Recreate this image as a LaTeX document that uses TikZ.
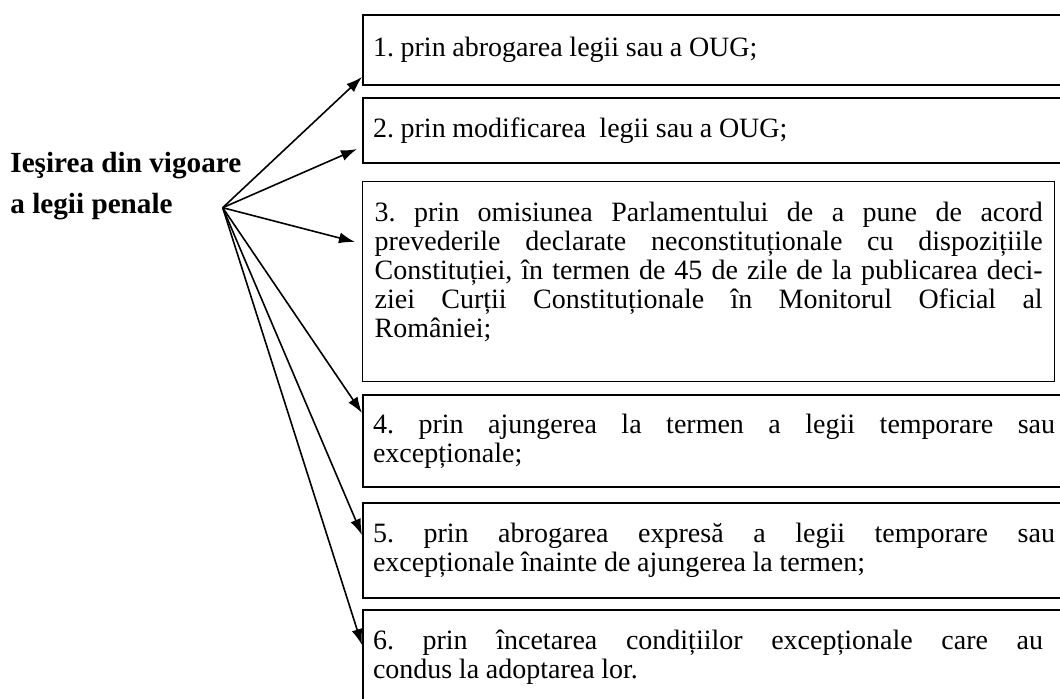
\documentclass[tikz,border=0pt]{standalone}
\usepackage{fontspec}
\setmainfont{Liberation Serif}
\usetikzlibrary{arrows.meta, calc}

\setlength{\parindent}{0pt}
\frenchspacing
\newcommand{\bodyfont}{\fontsize{14}{14.6}\selectfont}
\newcommand{\jline}[2][\linewidth]{\makebox[#1][s]{\spaceskip=0.25em plus 1fil minus 0.06em\relax #2}\\}

\tikzset{
  itembox/.style={draw, line width=1pt, anchor=north west, inner xsep=5pt, inner ysep=0pt,
    text width=341pt, align=left, execute at begin node=\bodyfont},
  ptr/.style={-{Latex[length=8pt, width=5.5pt]}, line width=0.8pt},
}

\begin{document}
\begin{tikzpicture}[x=0.5pt, y=-0.5pt]
\useasboundingbox (0,0) rectangle (1060,699);
\clip (0,0) rectangle (1060,699);

%% title on the left
\node[anchor=north west, inner sep=0pt, align=left,
  font=\fontsize{14.6}{20.3}\selectfont\bfseries] (src) at (10,152) {Ieşirea din vigoare\\a legii penale};
\coordinate (hub) at (222.7,207.7);

%% boxes
\node[itembox, minimum height=35pt] (b1) at (362,14) {1. prin abrogarea legii sau a OUG;};
\node[itembox, minimum height=32.5pt] (b2) at (362,97) {2. prin modificarea~ legii sau a OUG;};
\node[itembox, line width=0.7pt, inner xsep=6pt, text width=334pt, minimum height=100pt] (b3) at (362,181) {%
\jline{3. prin omisiunea Parlamentului de a pune de acord}
\jline{prevederile declarate neconstituționale cu dispozițiile}
\jline{Constituției, în termen de 45 de zile de la publicarea deci-}
\jline{ziei Curții Constituționale în Monitorul Oficial al}
României;\rule[-12pt]{0pt}{1pt}};
\node[itembox, minimum height=46pt] (b4) at (362,394) {%
\jline{4. prin ajungerea la termen a legii temporare sau}
excepționale;};
\node[itembox, minimum height=47.5pt] (b5) at (362,502) {%
\jline{5. prin abrogarea expresă a legii temporare sau}
excepționale înainte de ajungerea la termen;};
\node[itembox, minimum height=47pt] (b6) at (362,609) {%
\jline[335pt]{6. prin încetarea condițiilor excepționale care au}
condus la adoptarea lor.};

%% arrows
\draw[ptr] (hub) -- ($(b1.south west)+(0,-9)$);
\draw[ptr] (hub) -- ($(b2.south west)+(-5,-15)$);
\draw[ptr] (hub) -- ($(b3.north west)+(-7,61)$);
\draw[ptr] (hub) -- ($(b4.north west)+(0,19)$);
\draw[ptr] (hub) -- ($(b5.north west)+(0,33)$);
\draw[ptr] (hub) -- ($(b6.north west)+(0,36)$);

\end{tikzpicture}
\end{document}
